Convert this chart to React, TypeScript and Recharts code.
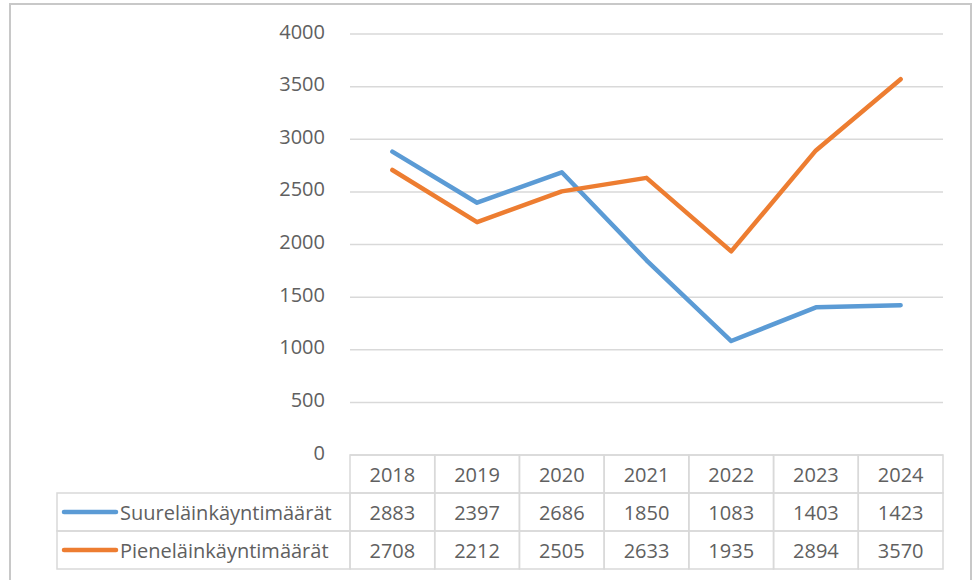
import React from 'react';
import { LineChart, Line, XAxis, YAxis, CartesianGrid } from 'recharts';

const categories = ['2018', '2019', '2020', '2021', '2022', '2023', '2024'];
const suureValues = [2883, 2397, 2686, 1850, 1083, 1403, 1423];
const pieneValues = [2708, 2212, 2505, 2633, 1935, 2894, 3570];
const seriesNames = ['Suureläinkäyntimäärät', 'Pieneläinkäyntimäärät'];
const yTicks = [0, 500, 1000, 1500, 2000, 2500, 3000, 3500, 4000];

const W = 976;
const H = 580;
const MARGIN = { top: 34, right: 33, bottom: 10, left: 10 };
const Y_AXIS_W = 340;
const X_AXIS_H = 115;
const PLOT_W = W - MARGIN.left - MARGIN.right - Y_AXIS_W;
const COL_W = PLOT_W / categories.length;
const ROW_H = 38;
const LEGEND_LEFT = 57;
const FONT = '"Open Sans", "Liberation Sans", sans-serif';
const FS = 20;
const TEXT_COLOR = '#606060';
const GRID = '#d9d9d9';
const COLORS = ['#5B9BD5', '#ED7D31'];

const data = categories.map((c, i) => ({ year: c, suure: suureValues[i], piene: pieneValues[i] }));

const TableTick = (props: any) => {
  const { x, y, index } = props;
  const left = x - COL_W / 2;
  const rows = [categories[index], String(suureValues[index]), String(pieneValues[index])];
  return (
    <g>
      {rows.map((t, r) => (
        <g key={r}>
          <rect x={left} y={y + r * ROW_H} width={COL_W} height={ROW_H} fill="none" stroke={GRID} strokeWidth={1.5} />
          <text x={x} y={y + r * ROW_H + ROW_H / 2} textAnchor="middle" dominantBaseline="central" fill={TEXT_COLOR} fontSize={FS} fontFamily={FONT}>
            {t}
          </text>
        </g>
      ))}
      {index === 0 &&
        seriesNames.map((name, s) => {
          const ry = y + (s + 1) * ROW_H;
          return (
            <g key={name}>
              <rect x={LEGEND_LEFT} y={ry} width={left - LEGEND_LEFT} height={ROW_H} fill="none" stroke={GRID} strokeWidth={1.5} />
              <line x1={64} x2={116} y1={ry + ROW_H / 2} y2={ry + ROW_H / 2} stroke={COLORS[s]} strokeWidth={4.5} strokeLinecap="round" />
              <text x={120} y={ry + ROW_H / 2} dominantBaseline="central" fill={TEXT_COLOR} fontSize={FS} fontFamily={FONT}>
                {name}
              </text>
            </g>
          );
        })}
    </g>
  );
};

const YTick = (props: any) => {
  const { x, y, payload } = props;
  return (
    <text x={x} y={y - 3} textAnchor="end" dominantBaseline="central" fill={TEXT_COLOR} fontSize={FS} fontFamily={FONT}>
      {payload.value}
    </text>
  );
};

export default function App() {
  return (
    <div style={{ position: 'absolute', left: 0, top: 0, width: W, height: H, overflow: 'hidden', background: '#fff' }}>
      <div style={{ position: 'absolute', left: 0, top: 0 }}>
        <LineChart width={W} height={H} data={data} margin={MARGIN}>
          <CartesianGrid vertical={false} stroke={GRID} strokeWidth={1.5} />
          <XAxis
            dataKey="year"
            height={X_AXIS_H}
            axisLine={false}
            tickLine={false}
            tickSize={0}
            tickMargin={0}
            interval={0}
            padding={{ left: COL_W / 2, right: COL_W / 2 }}
            tick={<TableTick />}
          />
          <YAxis width={Y_AXIS_W} domain={[0, 4000]} ticks={yTicks} axisLine={false} tickLine={false} tickSize={0} tickMargin={25} tick={<YTick />} interval={0} />
          <Line dataKey="suure" name={seriesNames[0]} stroke={COLORS[0]} strokeWidth={4.5} dot={false} isAnimationActive={false} strokeLinejoin="round" strokeLinecap="round" />
          <Line dataKey="piene" name={seriesNames[1]} stroke={COLORS[1]} strokeWidth={4.5} dot={false} isAnimationActive={false} strokeLinejoin="round" strokeLinecap="round" />
        </LineChart>
      </div>
      <div style={{ position: 'absolute', left: 9, top: 3, width: 963, height: 600, border: '2px solid #c8c8c8', boxSizing: 'border-box', pointerEvents: 'none' }} />
    </div>
  );
}
